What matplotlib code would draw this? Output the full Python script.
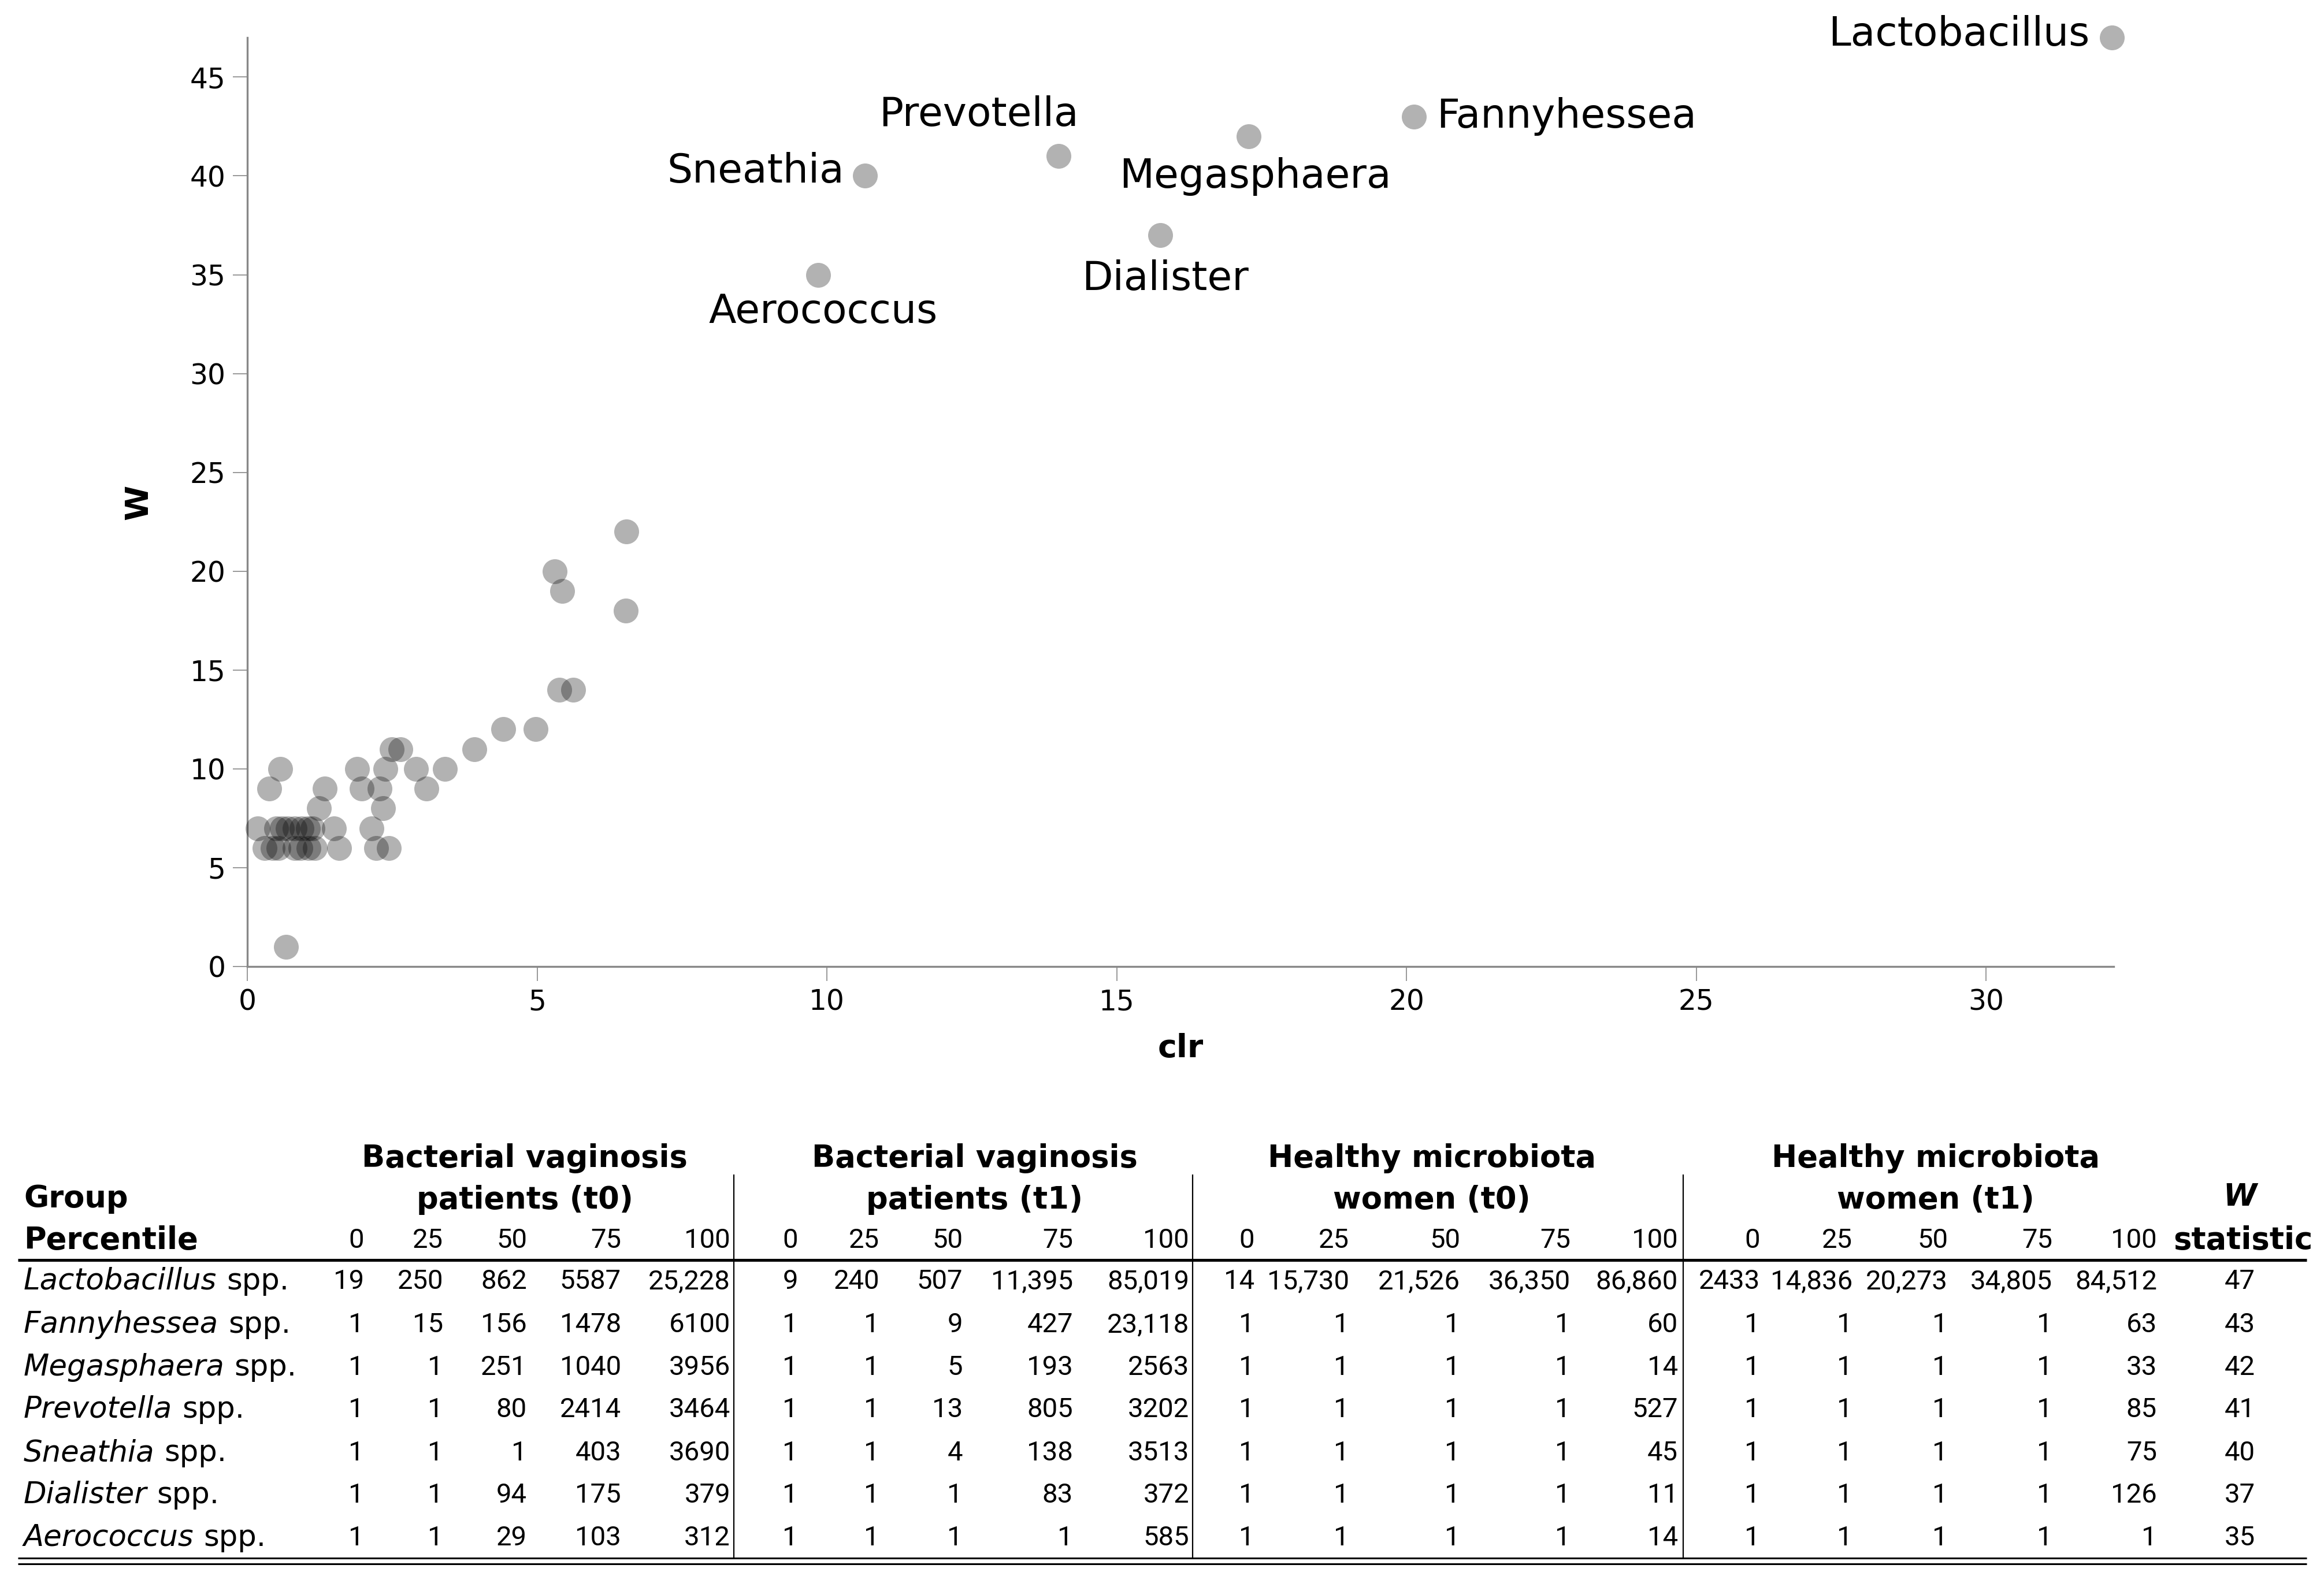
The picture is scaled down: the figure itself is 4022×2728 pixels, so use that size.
import matplotlib
matplotlib.use("Agg")
import matplotlib.pyplot as plt
from matplotlib.font_manager import FontProperties, findfont

plt.rcParams["font.family"] = ["DejaVu Sans"]

# ---- data -------------------------------------------------------------
taxa = ["Lactobacillus", "Fannyhessea", "Megasphaera", "Prevotella",
        "Sneathia", "Dialister", "Aerococcus"]
taxa_clr = [32.17, 20.13, 17.28, 14.0, 10.66, 15.75, 9.85]
w_stat = [47, 43, 42, 41, 40, 37, 35]

# remaining (unlabelled) features
other_clr = [0.67,
             0.30, 0.44, 0.54, 0.82, 0.92, 1.06, 1.17, 1.59, 2.22, 2.44,
             0.18, 0.50, 0.60, 0.70, 0.82, 0.94, 1.05, 1.13, 1.50, 2.14,
             1.24, 2.34,
             0.38, 1.34, 1.97, 2.28, 3.09,
             0.57, 1.89, 2.38, 2.91, 3.41,
             2.49, 2.64, 3.92,
             4.42, 4.97,
             5.38, 5.62,
             6.53, 5.43, 5.30, 6.54]
other_w = [1,
           6, 6, 6, 6, 6, 6, 6, 6, 6, 6,
           7, 7, 7, 7, 7, 7, 7, 7, 7, 7,
           8, 8,
           9, 9, 9, 9, 9,
           10, 10, 10, 10, 10,
           11, 11, 11,
           12, 12,
           14, 14,
           18, 19, 20, 22]

percentiles = [0, 25, 50, 75, 100]
group_titles = [("Bacterial vaginosis", "patients (t0)"),
                ("Bacterial vaginosis", "patients (t1)"),
                ("Healthy microbiota", "women (t0)"),
                ("Healthy microbiota", "women (t1)")]
bv_t0 = [[19, 250, 862, 5587, 25228], [1, 15, 156, 1478, 6100],
         [1, 1, 251, 1040, 3956], [1, 1, 80, 2414, 3464],
         [1, 1, 1, 403, 3690], [1, 1, 94, 175, 379], [1, 1, 29, 103, 312]]
bv_t1 = [[9, 240, 507, 11395, 85019], [1, 1, 9, 427, 23118],
         [1, 1, 5, 193, 2563], [1, 1, 13, 805, 3202],
         [1, 1, 4, 138, 3513], [1, 1, 1, 83, 372], [1, 1, 1, 1, 585]]
hm_t0 = [[14, 15730, 21526, 36350, 86860], [1, 1, 1, 1, 60],
         [1, 1, 1, 1, 14], [1, 1, 1, 1, 527], [1, 1, 1, 1, 45],
         [1, 1, 1, 1, 11], [1, 1, 1, 1, 14]]
hm_t1 = [[2433, 14836, 20273, 34805, 84512], [1, 1, 1, 1, 63],
         [1, 1, 1, 1, 33], [1, 1, 1, 1, 85], [1, 1, 1, 1, 75],
         [1, 1, 1, 1, 126], [1, 1, 1, 1, 1]]
groups = [bv_t0, bv_t1, hm_t0, hm_t1]

# ---- layout -----------------------------------------------------------
W, H = 4022, 2728
DPI = 200
GREY = "#888888"

# label offsets (points) and alignment for the annotated taxa
label_pos = {
    "Lactobacillus": (-14, 2, "right"),
    "Fannyhessea": (14, 0, "left"),
    "Megasphaera": (4, -25, "center"),
    "Prevotella": (-50, 26, "center"),
    "Sneathia": (-13, 3, "right"),
    "Dialister": (3, -27, "center"),
    "Aerococcus": (3, -23, "center"),
}

# table numbers: narrow digits, as in the original table
num_font = FontProperties(family="Roboto", size=17)
if "oboto" not in findfont(num_font, fallback_to_default=False):
    num_font = FontProperties(family="DejaVu Sans", size=15)

fig = plt.figure(figsize=(W / DPI, H / DPI), dpi=DPI)
fig.patch.set_facecolor("white")

x0_px, x1_px, y0_px, y1_px = 428, 3658, 1673, 65
ax = fig.add_axes([x0_px / W, 1 - y0_px / H,
                   (x1_px - x0_px) / W, (y0_px - y1_px) / H])

ax.scatter(other_clr, other_w, s=240, color="black", alpha=0.3,
           linewidths=0, clip_on=False, zorder=3)
ax.scatter(taxa_clr, w_stat, s=240, color="black", alpha=0.3,
           linewidths=0, clip_on=False, zorder=3)
for name, cx, wy in zip(taxa, taxa_clr, w_stat):
    dx, dy, ha = label_pos[name]
    ax.annotate(name, (cx, wy), xytext=(dx, dy), textcoords="offset points",
                ha=ha, va="center", fontsize=25)

ax.set_xlim(0, 32.2)
ax.set_ylim(0, 47.0)
ax.set_xticks(range(0, 31, 5))
ax.set_yticks(range(0, 46, 5))
for side in ("top", "right"):
    ax.spines[side].set_visible(False)
for side in ("left", "bottom"):
    ax.spines[side].set_color(GREY)
    ax.spines[side].set_linewidth(1.2)
ax.tick_params(direction="out", length=9, width=0.6, color=GREY,
               labelsize=17.5, pad=4.5)
ax.set_xlabel("clr", fontsize=20, fontweight="bold", va="center")
ax.xaxis.set_label_coords(0.5, (y0_px - 1815) / (y0_px - y1_px))
ax.set_ylabel("W", fontsize=20, fontweight="bold", va="center")
ax.yaxis.set_label_coords((240 - x0_px) / (x1_px - x0_px), 0.5)

# ---- table (pixel coordinates) ---------------------------------------
tax = fig.add_axes([0, 0, 1, 1])
tax.set_xlim(0, W)
tax.set_ylim(H, 0)
tax.axis("off")

col_right = [[630, 767, 912, 1075, 1264],
             [1381, 1522, 1666, 1857, 2058],
             [2171, 2335, 2527, 2718, 2904],
             [3046, 3206, 3371, 3552, 3733]]
group_center = [908, 1687, 2478, 3350]
w_center = 3876
row_y = [2218, 2293, 2367, 2440, 2515, 2588, 2662]
left_x = 41
NAME = 18.5
HEAD = 19


def fmt(v):
    return f"{v:,}" if v >= 10000 else str(v)


for (l1, l2), cx in zip(group_titles, group_center):
    tax.text(cx, 2005, l1, ha="center", va="center", fontsize=HEAD,
             fontweight="bold")
    tax.text(cx, 2077, l2, ha="center", va="center", fontsize=HEAD,
             fontweight="bold")
tax.text(left_x, 2075, "Group", ha="left", va="center", fontsize=HEAD,
         fontweight="bold")
tax.text(left_x, 2147, "Percentile", ha="left", va="center", fontsize=HEAD,
         fontweight="bold")
tax.text(w_center, 2072, "W", ha="center", va="center", fontsize=HEAD,
         fontweight="bold", style="italic")
tax.text(w_center + 6, 2147, "statistic", ha="center", va="center",
         fontsize=HEAD, fontweight="bold")
for cols in col_right:
    for xr, p in zip(cols, percentiles):
        tax.text(xr, 2147, str(p), ha="right", va="center",
                 fontproperties=num_font)

for i, name in enumerate(taxa):
    yc = row_y[i]
    t = tax.text(left_x, yc, name, ha="left", va="center", fontsize=NAME,
                 style="italic")
    tax.annotate("spp.", xy=(1, 0.5), xycoords=t, xytext=(6, 0),
                 textcoords="offset points", ha="left", va="center",
                 fontsize=NAME)
    for g, cols in zip(groups, col_right):
        for xr, v in zip(cols, g[i]):
            tax.text(xr, yc, fmt(v), ha="right", va="center",
                     fontproperties=num_font)
    tax.text(w_center, yc, str(w_stat[i]), ha="center", va="center",
             fontproperties=num_font)

tax.hlines(2181, 31, 3992, color="black", lw=1.8)
tax.hlines([2697, 2707], 31, 3992, color="black", lw=1.1)
tax.vlines([1270, 2064, 2913], 2033, 2697, color="black", lw=0.8)

fig.savefig("out.png", dpi=DPI)
plt.close(fig)
